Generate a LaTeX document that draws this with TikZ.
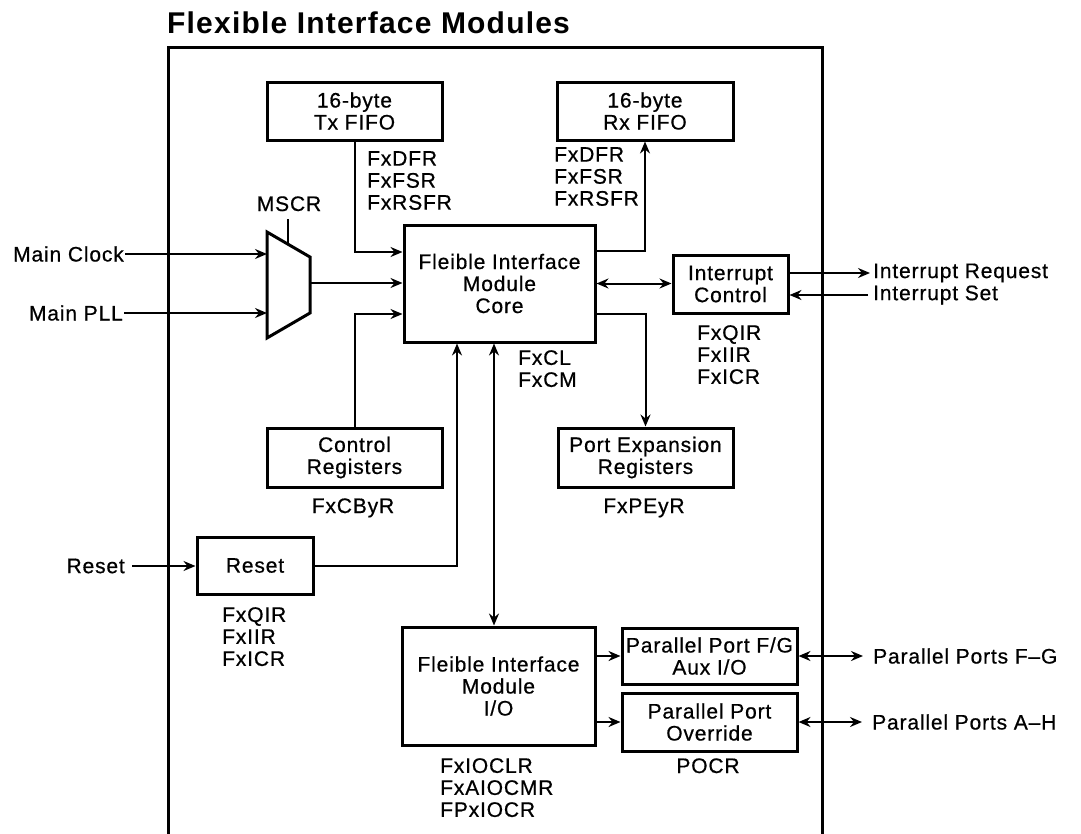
\documentclass[tikz,border=0pt]{standalone}
\usepackage{fontspec}
\setmainfont{Liberation Sans}[LetterSpace=4]
\newfontfamily\bodyfont{Liberation Sans}[LetterSpace=4, FakeBold=0.6]
\usetikzlibrary{arrows.meta,calc}
\begin{document}
\begin{tikzpicture}[x=1pt,y=-1pt,
  font=\bodyfont\fontsize{21}{22}\selectfont,
  blk/.style={draw, line width=3pt, inner sep=1pt, align=center},
  lab/.style={inner sep=0pt, align=left, anchor=north west},
  txt/.style={inner sep=0pt},
  conn/.style={line width=2pt},
  tip/.tip={Stealth[length=12pt,width=10pt,inset=4pt]},
  arr/.style={conn, -tip},
  dbl/.style={conn, tip-tip},
]
\useasboundingbox[fill=white] (0,0) rectangle (1081,833);

% title
\node[txt, anchor=base west, font=\normalfont\fontsize{30}{32}\selectfont\bfseries] (title) at (167,33) {Flexible Interface Modules};

% frame
\draw[line width=3pt] (168,836) -- (168,47) -- (822,47) -- (822,836);

% blocks
\node[blk, minimum width=175pt, minimum height=58pt] (tx) at (354.5,111) {16-byte\\Tx FIFO};
\node[blk, minimum width=176pt, minimum height=58pt] (rx) at (645,111) {16-byte\\Rx FIFO};
\node[blk, minimum width=191pt, minimum height=117pt] (core) at (499.5,283.5) {Fleible Interface\\Module\\Core};
\node[blk, minimum width=115pt, minimum height=58pt] (intc) at (730.5,284) {Interrupt\\Control};
\node[blk, minimum width=175pt, minimum height=59pt] (ctrl) at (354.5,457.5) {Control\\Registers};
\node[blk, minimum width=175pt, minimum height=59pt] (pexp) at (645.5,457.5) {Port Expansion\\Registers};
\node[blk, minimum width=116pt, minimum height=57pt] (rst) at (255,565.5) {Reset};
\node[blk, minimum width=193pt, minimum height=118pt] (io) at (498.5,686) {Fleible Interface\\Module\\I/O};
\node[blk, minimum width=175pt, minimum height=56pt] (ppfg) at (709.5,656) {Parallel Port F/G\\Aux I/O};
\node[blk, minimum width=175pt, minimum height=58pt] (ppo) at (709.5,722) {Parallel Port\\Override};

% multiplexer
\draw[line width=3pt, line join=miter] (267,232) -- (310,257) -- (310,313) -- (267,338) -- cycle;
\coordinate (mi1) at (267,254);
\coordinate (mi2) at (267,313);
\coordinate (mo) at (310,283);
\coordinate (ms) at (288,244);

% register labels
\node[lab] (txl) at (367,151) {FxDFR\\FxFSR\\FxRSFR};
\node[lab] (rxl) at (554,147) {FxDFR\\FxFSR\\FxRSFR};
\node[lab] (intl) at (697,325) {FxQIR\\FxIIR\\FxICR};
\node[lab] (cml) at (518,350) {FxCL\\FxCM};
\node[lab] (rstl) at (222,607) {FxQIR\\FxIIR\\FxICR};
\node[lab] (iol) at (440,758) {FxIOCLR\\FxAIOCMR\\FPxIOCR};
\node[txt, anchor=base] (mscr) at (289,211) {MSCR};
\node[txt, anchor=base] (cbyr) at (353,513) {FxCByR};
\node[txt, anchor=base] (peyr) at (644,513) {FxPEyR};
\node[txt, anchor=base] (pocr) at (708,773) {POCR};

% external signals
\node[txt, anchor=east] (mclk) at (124,254) {Main Clock};
\node[txt, anchor=east] (mpll) at (123,313) {Main PLL};
\node[txt, anchor=east] (rsttxt) at (125,566) {Reset};
\node[txt, anchor=west] (ireq) at (873,273) {Interrupt Request};
\node[txt, anchor=west] (iset) at (873,295) {Interrupt Set};
\node[txt, anchor=west] (pfg) at (873,656) {Parallel Ports F–G};
\node[txt, anchor=west] (pah) at (872,722) {Parallel Ports A–H};

% connectors
\draw[arr, shorten <=1pt] (mclk.east) -- (mi1);
\draw[arr, shorten <=1pt] (mpll.east) -- (mi2);
\draw[arr] (mo) -- (core.west |- mo);
\draw[conn, shorten <=8pt] (ms |- mscr.south) -- (ms);
\draw[arr] (tx.south) |- ([yshift=31.5pt]core.west);
\draw[arr] (ctrl.north) |- ([yshift=-30.5pt]core.west);
\draw[arr] ([yshift=32.5pt]core.east) -| (rx.south);
\draw[arr] ([yshift=-30.5pt]core.east) -| (pexp.north);
\draw[dbl] (core.east) -- (core.east -| intc.west);
\draw[arr, shorten >=3pt] (intc.east |- ireq.west) -- (ireq.west);
\draw[arr, shorten <=5pt] (iset.west) -- (intc.east |- iset.west);
\draw[arr, shorten <=7pt] (rsttxt.east) -- (rst.west |- rsttxt.east);
\draw[arr] (rst.east) -| ([xshift=-42.5pt]core.south);
\draw[dbl] ([xshift=-5.5pt]core.south) -- ([xshift=-5.5pt]core.south |- io.north);
\draw[arr] (io.east |- ppfg.west) -- (ppfg.west);
\draw[arr] (io.east |- ppo.west) -- (ppo.west);
\draw[dbl, shorten >=10pt] (ppfg.east) -- (ppfg.east -| pfg.west);
\draw[dbl, shorten >=10pt] (ppo.east) -- (ppo.east -| pah.west);
\end{tikzpicture}
\end{document}
